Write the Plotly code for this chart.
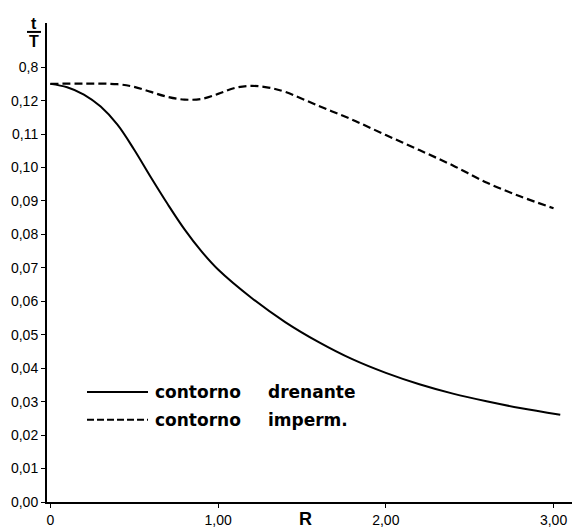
import plotly.graph_objects as go

# data
r_drenante = [0, 0.1, 0.2, 0.3, 0.4, 0.5, 0.6, 0.7, 0.8, 0.9, 1.0, 1.2, 1.4, 1.6,
              1.8, 2.0, 2.2, 2.4, 2.6, 2.8, 3.04]
t_drenante = [0.1250, 0.1240, 0.1218, 0.1182, 0.1128, 0.1053, 0.0970, 0.0890, 0.0815,
              0.0750, 0.0695, 0.0610, 0.0538, 0.0478, 0.0427, 0.0386, 0.0352, 0.0324,
              0.0301, 0.0281, 0.0261]

r_imperm = [0, 0.2, 0.4, 0.5, 0.6, 0.7, 0.8, 0.9, 1.0, 1.1, 1.2, 1.3, 1.4, 1.6, 1.8,
            2.0, 2.2, 2.4, 2.6, 2.8, 3.0]
t_imperm = [0.1250, 0.1251, 0.1249, 0.1241, 0.1226, 0.1211, 0.1203, 0.1205, 0.1220,
            0.1238, 0.1244, 0.1239, 0.1226, 0.1184, 0.1143, 0.1097, 0.1052, 0.1006,
            0.0955, 0.0914, 0.0878]

y_tickvals = [0.00, 0.01, 0.02, 0.03, 0.04, 0.05, 0.06, 0.07, 0.08, 0.09, 0.10, 0.11, 0.12, 0.13]
y_ticktext = ["0,00", "0,01", "0,02", "0,03", "0,04", "0,05", "0,06", "0,07", "0,08",
              "0,09", "0,10", "0,11", "0,12", "0,8"]
x_tickvals = [0, 1, 2, 3]
x_ticktext = ["0", "1,00", "2,00", "3,00"]

legend_labels = [("contorno", "drenante", "solid"), ("contorno", "imperm.", "dash")]

TICKFONT = dict(family="Liberation Sans", size=14, color="black")
LABFONT = dict(family="DejaVu Sans", size=17, color="black", weight="bold")

fig = go.Figure()
fig.add_trace(go.Scatter(x=r_drenante, y=t_drenante, mode="lines",
                         line=dict(color="black", width=2, shape="spline", smoothing=1.0),
                         showlegend=False, hoverinfo="skip"))
fig.add_trace(go.Scatter(x=r_imperm, y=t_imperm, mode="lines",
                         line=dict(color="black", width=2.2, dash="8px,4px",
                                   shape="spline", smoothing=1.0),
                         showlegend=False, hoverinfo="skip"))

fig.update_layout(
    width=575, height=531, autosize=False,
    margin=dict(l=47, r=3, t=23, b=25),
    paper_bgcolor="white", plot_bgcolor="white",
    xaxis=dict(range=[-0.02, 3.11], tickvals=x_tickvals, ticktext=x_ticktext,
               showgrid=False, zeroline=False, showline=True, linecolor="black",
               linewidth=1.5, ticks="outside", ticklen=4, tickcolor="black",
               tickfont=TICKFONT),
    yaxis=dict(range=[0, 0.1432], tickvals=y_tickvals, ticktext=y_ticktext,
               showgrid=False, zeroline=False, showline=True, linecolor="black",
               linewidth=2, ticks="outside", ticklen=4, tickcolor="black",
               tickfont=TICKFONT),
)

# axis labels
fig.add_annotation(xref="paper", yref="paper", x=(305 - 47) / 525, y=(531 - 523 - 25) / 483,
                   text="R", showarrow=False, xanchor="center", yanchor="middle",
                   font=dict(family="Liberation Sans", size=18, color="black", weight="bold"))
fig.add_annotation(xref="paper", yref="paper", x=(34 - 47) / 525, y=(506 - 23) / 483,
                   text="t", showarrow=False, xanchor="center", yanchor="middle",
                   font=dict(family="Liberation Sans", size=16, color="black", weight="bold"))
fig.add_annotation(xref="paper", yref="paper", x=(34 - 47) / 525, y=(506 - 42) / 483,
                   text="T", showarrow=False, xanchor="center", yanchor="middle",
                   font=dict(family="Liberation Sans", size=16, color="black", weight="bold"))
fig.add_shape(type="line", xref="paper", yref="paper",
              x0=(27 - 47) / 525, x1=(41 - 47) / 525,
              y0=(506 - 32) / 483, y1=(506 - 32) / 483,
              line=dict(color="black", width=2))

# legend drawn by hand
rows_y = [395, 423]
for (w1, w2, dash), py in zip(legend_labels, rows_y):
    yp = (506 - py) / 483
    fig.add_shape(type="line", xref="paper", yref="paper",
                  x0=(87 - 47) / 525, x1=(148 - 47) / 525, y0=yp, y1=yp,
                  line=dict(color="black", width=2,
                            dash="solid" if dash == "solid" else "7px,3px"))
    fig.add_annotation(xref="paper", yref="paper", x=(153 - 47) / 525, y=yp,
                       text=w1, showarrow=False, xanchor="left", yanchor="middle",
                       font=LABFONT)
    fig.add_annotation(xref="paper", yref="paper", x=(266 - 47) / 525, y=yp,
                       text=w2, showarrow=False, xanchor="left", yanchor="middle",
                       font=LABFONT)

fig.write_html("out.html")
